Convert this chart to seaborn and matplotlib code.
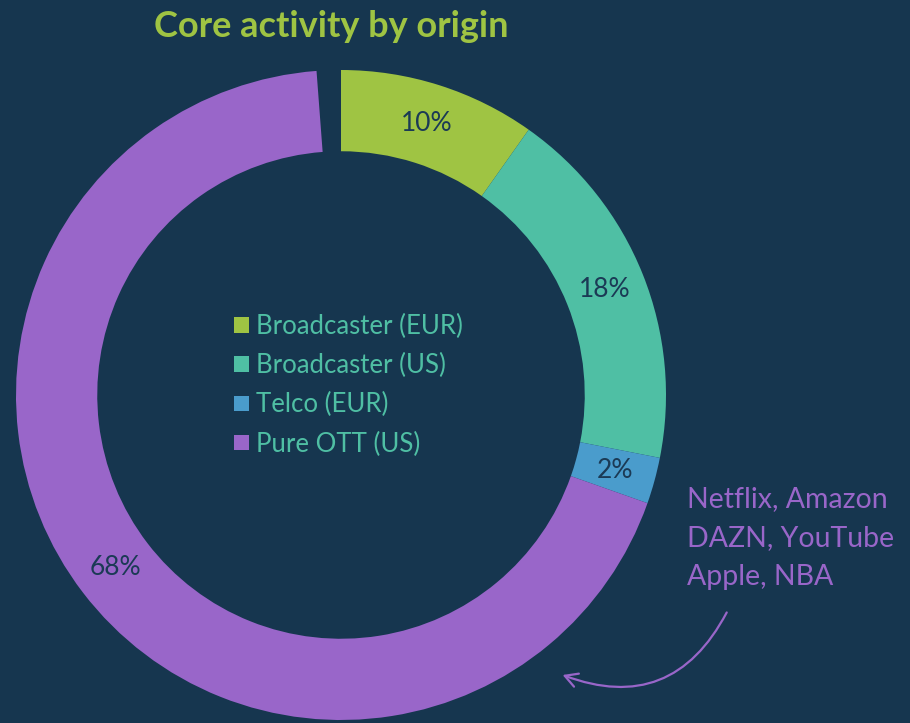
import matplotlib
matplotlib.use("Agg")
import matplotlib.pyplot as plt
import seaborn as sns

# shares of core activity (percent)
origins = ["Broadcaster (EUR)", "Broadcaster (US)", "Telco (EUR)", "Pure OTT (US)"]
shares = [9.8, 18.3, 2.3, 68.4]
ott_names = ["Netflix, Amazon", "DAZN, YouTube", "Apple, NBA"]

bg = "#16364f"
palette = sns.color_palette(["#9fc443", "#4fbfa4", "#4a9ccc", "#9966c9"])

sns.set_style("white")
plt.rcParams["font.family"] = ["Lato", "DejaVu Sans"]

fig = plt.figure(figsize=(9.1, 7.23), dpi=100, facecolor=bg)
ax = fig.add_axes([16 / 910, 3 / 723, 650 / 910, 650 / 723])
ax.set_facecolor(bg)

wedges, _, pcts = ax.pie(
    [s / 100 for s in shares],
    colors=palette,
    startangle=90,
    counterclock=False,
    normalize=False,
    radius=1,
    autopct="%.0f%%",
    pctdistance=0.875,
    wedgeprops=dict(width=0.25, linewidth=0),
    textprops=dict(color="#1b3a55", fontsize=19),
)
ax.set_xlim(-1, 1)
ax.set_ylim(-1, 1)
ax.set_aspect("equal")
ax.axis("off")

leg = ax.legend(
    wedges, origins,
    loc="center", bbox_to_anchor=(0.512, 0.515),
    frameon=False, fontsize=18.5,
    handlelength=0.55, handleheight=0.55, handletextpad=0.3,
    labelspacing=0.55,
)
for t in leg.get_texts():
    t.set_color("#4fbfa4")

fig.text(0.364, 1 - 37 / 723, "Core activity by origin",
         ha="center", va="baseline", fontsize=26, fontweight="bold",
         color="#9fc443")

fig.text(687 / 910, 1 - 486 / 723, "\n".join(ott_names),
         ha="left", va="top", fontsize=20.5, color="#9966c9", linespacing=1.62)

ax.annotate("", xy=(560 / 910, 1 - 674 / 723), xycoords="figure fraction",
            xytext=(728 / 910, 1 - 610 / 723), textcoords="figure fraction",
            arrowprops=dict(arrowstyle="->,head_length=0.9,head_width=0.5",
                            color="#9966c9", lw=1.6,
                            connectionstyle="arc3,rad=-0.45"))

fig.savefig("out.png", dpi=100, facecolor=bg)
